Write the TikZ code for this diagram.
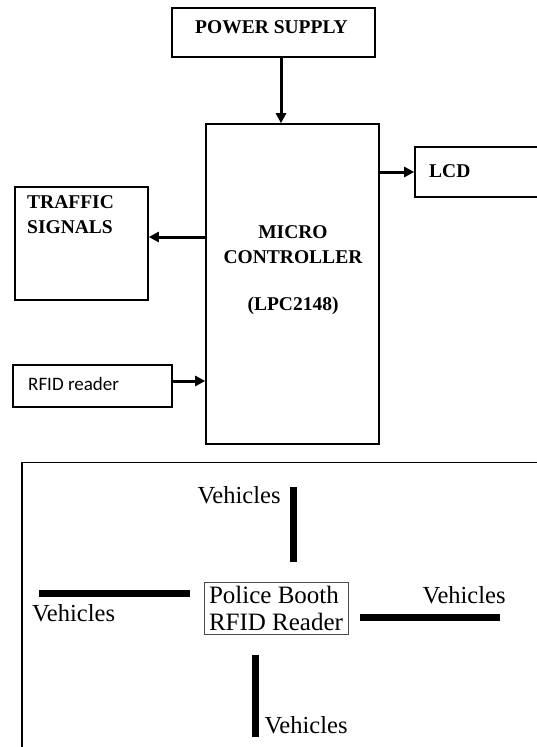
\documentclass[tikz,border=0pt]{standalone}
\usepackage{fontspec}
\setmainfont{Liberation Serif}
\newfontfamily\calibri{Carlito}
\usetikzlibrary{arrows.meta,positioning}

\tikzset{
  block/.style={draw,line width=1.6pt,inner sep=0pt},
  arr/.style={line width=3pt,-{Triangle[length=10pt,width=10pt]}},
  head/.style={font=\fontsize{19.5}{25}\selectfont\bfseries,inner sep=0pt},
  road/.style={line width=7pt},
  vlabel/.style={font=\fontsize{24.5}{27}\selectfont,inner sep=0pt},
}

\begin{document}
\begin{tikzpicture}[x=1pt,y=-1pt]
  \clip (0,0) rectangle (537,747);
  \fill[white] (0,0) rectangle (537,747);
  % block diagram
  \node[block,minimum width=203pt,minimum height=49pt] (power) at (273.5,32.5) {};
  \node[head] (powertxt) at (271.5,27) {POWER SUPPLY};
  \node[block,minimum width=173pt,minimum height=320pt] (micro) at (292.5,284) {};
  \node[head,align=center] (microtxt) at (293,270) {MICRO\\CONTROLLER\\[22pt](LPC2148)};
  \node[block,minimum width=140pt,minimum height=50pt] (lcd) at (485,172) {};
  \node[head,anchor=west] (lcdtxt) at (429,171) {LCD};
  \node[block,minimum width=133pt,minimum height=113pt] (traffic) at (81.5,243.5) {};
  \node[head,align=left,anchor=north west] (traffictxt) at (27,195) {TRAFFIC\\SIGNALS};
  \node[block,minimum width=159pt,minimum height=42pt] (rfid) at (92.5,386) {};
  \node[anchor=west,inner sep=0pt,font=\calibri\fontsize{19}{22}\selectfont] (rfidtxt) at (28,384) {RFID reader};
  % connectors
  \draw[arr] ([xshift=7.5pt]power.south) -- ([xshift=7.5pt]power.south |- micro.north);
  \draw[arr] (micro.east |- lcd.west) -- (lcd.west);
  \draw[arr] ([yshift=6.5pt]micro.west |- traffic.east) -- ([yshift=6.5pt]traffic.east);
  \draw[arr] ([yshift=5pt]rfid.east) -- ([yshift=5pt]micro.west |- rfid.east);
  % junction layout
  \draw[line width=1.5pt] (22,750) -- (22,462.5) -- (545,462.5);
  \node[draw=black!70,line width=0.8pt,align=left,inner xsep=5pt,inner ysep=4pt,font=\fontsize{25}{27}\selectfont] (booth) at (276,608.5) {Police Booth\\RFID Reader};
  \draw[road] (293,487) -- (293,562);
  \draw[road] (39,593) -- (190,593);
  \draw[road] (360,617) -- (500,617);
  \draw[road] (255,655) -- (255,737);
  \node[vlabel] (vtop) at (239,495) {Vehicles};
  \node[vlabel] (vleft) at (73.5,613) {Vehicles};
  \node[vlabel] (vright) at (464,595) {Vehicles};
  \node[vlabel] (vbottom) at (306,725) {Vehicles};
\end{tikzpicture}
\end{document}
